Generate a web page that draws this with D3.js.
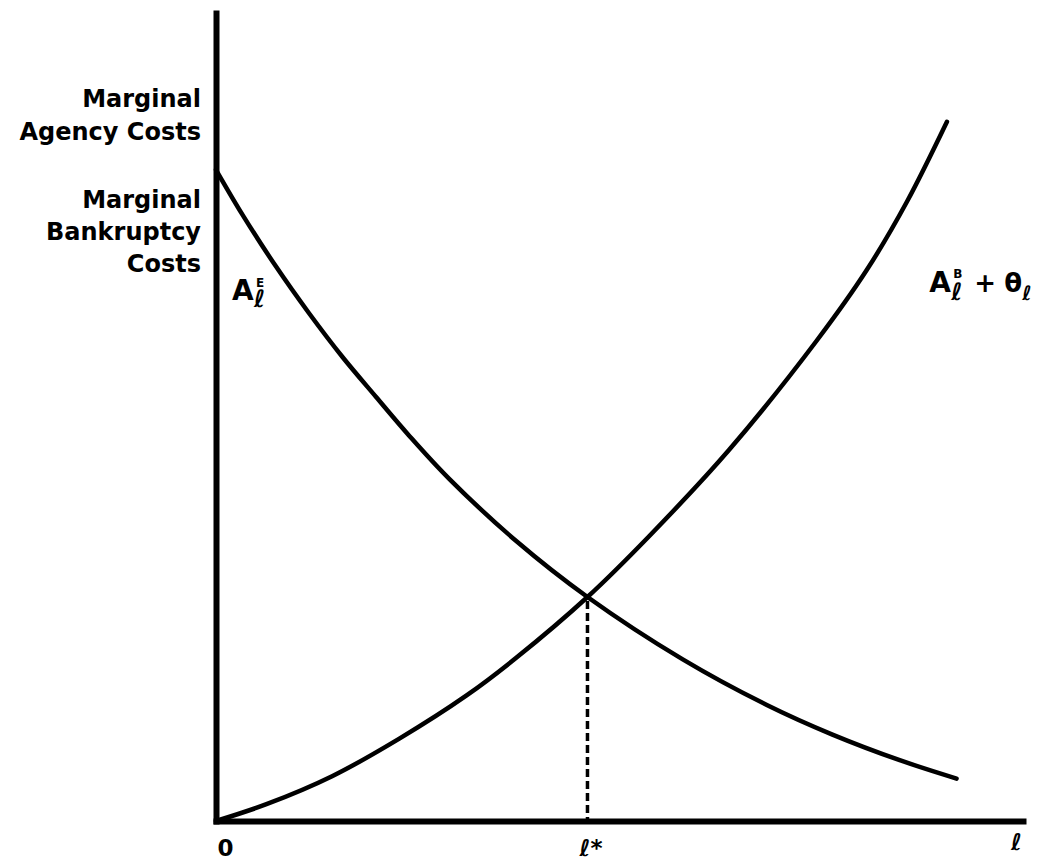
<!DOCTYPE html>
<html>
<head>
<meta charset="utf-8">
<script src="https://cdn.jsdelivr.net/npm/d3@7"></script>
<style>
    body { margin: 0; background: #fff; }
    text { font-family: "DejaVu Sans", sans-serif; font-weight: bold; fill: #000; }
</style>
</head>
<body>
<div id="chart"></div>
<script>
// Leverage on the x axis, marginal costs on the y axis
const agencyEquity = [
    [0.00, 8.14], [0.33, 7.58], [0.75, 6.93], [1.16, 6.35], [1.58, 5.80],
    [2.00, 5.30], [2.41, 4.82], [2.91, 4.28], [3.75, 3.50], [4.64, 2.80],
    [5.83, 2.02], [6.88, 1.45], [7.70, 1.08], [8.54, 0.76], [9.25, 0.53]
];
const agencyBankruptcy = [
    [0.00, 0.00], [0.63, 0.21], [1.45, 0.56], [2.29, 1.03], [3.13, 1.57],
    [3.75, 2.04], [4.64, 2.80], [5.41, 3.56], [6.41, 4.64], [7.50, 6.00],
    [8.13, 6.89], [8.63, 7.74], [9.13, 8.74]
];
const optimum = [4.64, 2.80];
const xTickValues = [0, 4.64, 10.08];
const xTickLabels = ['0', 'ℓ*', 'ℓ'];
const yTitleLines = ['Marginal', 'Agency Costs', 'Marginal', 'Bankruptcy', 'Costs'];

const totalWidth = 1040
const totalHeight = 862

const xScale = d3.scaleLinear()
    .domain([0, 10.08])
    .range([216, 1023]);

const yScale = d3.scaleLinear()
    .domain([0, 10.1])
    .range([821, 13]);

const svg = d3.select('#chart')
    .append('svg')
    .attr('width', totalWidth)
    .attr('height', totalHeight)
    .style('display', 'block');

// Axes: heavy lines, no ticks
const xAxis = svg.append('g')
    .attr('transform', `translate(0, ${yScale(0)})`)
    .call(d3.axisBottom(xScale)
        .tickValues(xTickValues)
        .tickFormat((d, i) => xTickLabels[i])
        .tickSize(0));

xAxis.selectAll('text')
    .style('font-size', '23px')
    .attr('dy', null)
    .attr('dx', (d, i) => [9, 3, -7][i])
    .attr('y', (d, i) => [35, 35, 29][i]);

svg.append('g')
    .attr('transform', `translate(${xScale(0)}, 0)`)
    .call(d3.axisLeft(yScale).tickValues([]).tickSizeOuter(0));

svg.selectAll('.domain')
    .attr('stroke', '#000')
    .attr('stroke-width', 6)
    .attr('stroke-linecap', 'square');

// Y axis title, right aligned next to the axis
const titleBaselines = [107, 140, 208, 240, 272];
svg.append('g')
    .selectAll('text')
    .data(yTitleLines)
    .enter()
    .append('text')
    .attr('x', xScale(0) - 15)
    .attr('y', (d, i) => titleBaselines[i])
    .attr('text-anchor', 'end')
    .style('font-size', '24px')
    .text(d => d);

const line = d3.line()
    .x(d => xScale(d[0]))
    .y(d => yScale(d[1]))
    .curve(d3.curveCatmullRom.alpha(0.5));

svg.append('path')
    .datum(agencyEquity)
    .attr('d', line)
    .attr('fill', 'none')
    .attr('stroke', '#000')
    .attr('stroke-width', 4.5)
    .attr('stroke-linecap', 'round');

svg.append('path')
    .datum(agencyBankruptcy)
    .attr('d', line)
    .attr('fill', 'none')
    .attr('stroke', '#000')
    .attr('stroke-width', 4.5)
    .attr('stroke-linecap', 'round');

// Dashed drop line from the intersection to the axis
svg.append('line')
    .attr('x1', xScale(optimum[0]))
    .attr('x2', xScale(optimum[0]))
    .attr('y1', yScale(optimum[1]) + 4)
    .attr('y2', yScale(0))
    .attr('stroke', '#000')
    .attr('stroke-width', 3.5)
    .attr('stroke-dasharray', '8,4');

// Curve labels: one text each, super/subscripts stacked with tspans
// A_l^E near the left curve
const ex = xScale(0.2), ey = yScale(6.51);
const labelE = svg.append('text');
labelE.append('tspan').attr('x', ex).attr('y', ey).style('font-size', '28px').text('A');
labelE.append('tspan').attr('x', ex + 24).attr('y', ey - 13).style('font-size', '12px').text('E');
labelE.append('tspan').attr('x', ex + 22).attr('y', ey + 7).style('font-size', '24px').text('ℓ');

// A_l^B + theta_l near the right curve
const bx = xScale(8.91), by = yScale(6.61);
const labelB = svg.append('text');
labelB.append('tspan').attr('x', bx).attr('y', by).style('font-size', '28px').text('A');
labelB.append('tspan').attr('x', bx + 24).attr('y', by - 14).style('font-size', '12px').text('B');
labelB.append('tspan').attr('x', bx + 22).attr('y', by + 8).style('font-size', '24px').text('ℓ');
labelB.append('tspan').attr('x', bx + 45).attr('y', by).style('font-size', '26px').text('+');
labelB.append('tspan').attr('x', bx + 75).attr('y', by).style('font-size', '26px').text('θ');
labelB.append('tspan').attr('x', bx + 93).attr('y', by + 8).style('font-size', '20px').text('ℓ');
</script>
</body>
</html>
